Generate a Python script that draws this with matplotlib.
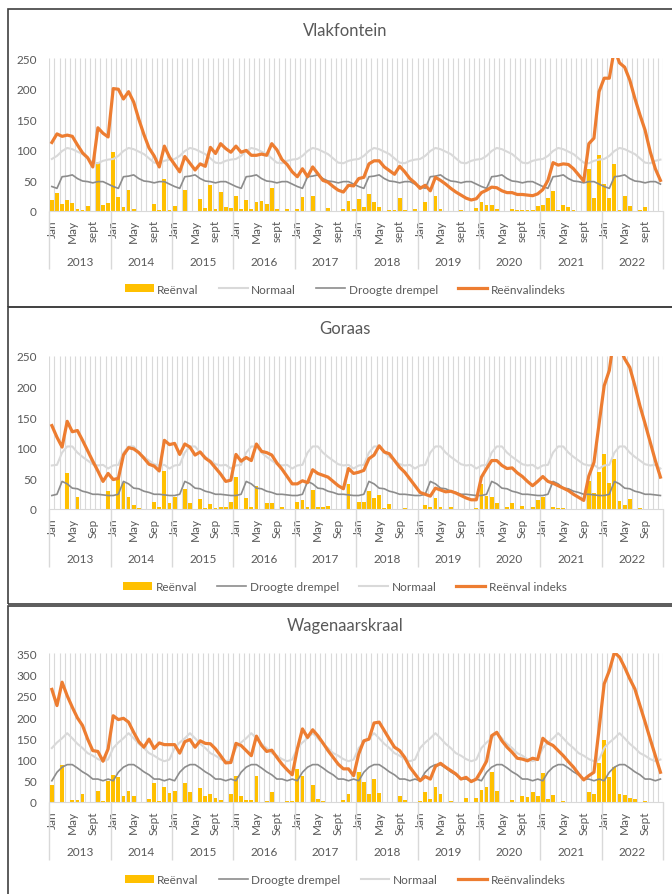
import numpy as np
import matplotlib
matplotlib.use("Agg")
import matplotlib.pyplot as plt
from matplotlib.patches import Patch, Rectangle
from matplotlib.lines import Line2D

plt.rcParams['font.family'] = ['Lato', 'DejaVu Sans']

jare = ['2013', '2014', '2015', '2016', '2017', '2018', '2019', '2020', '2021', '2022']

# Vlakfontein
vlak_reenval = [18, 29, 12, 18, 13, 3, 1, 8, 0, 80, 9, 13,
                97, 23, 6, 35, 3, 0, 0, 0, 11, 2, 52, 1,
                8, 0, 35, 0, 0, 19, 5, 43, 3, 31, 7, 5,
                24, 4, 18, 4, 14, 17, 11, 37, 3, 0, 4, 0,
                3, 23, 0, 25, 0, 0, 5, 0, 0, 3, 17, 4,
                19, 7, 28, 14, 7, 0, 2, 2, 22, 1, 0, 3,
                0, 14, 0, 25, 3, 0, 0, 0, 1, 0, 0, 5,
                14, 10, 9, 3, 0, 0, 3, 1, 2, 2, 2, 8,
                10, 22, 33, 1, 9, 7, 1, 0, 0, 68, 22, 91,
                44, 22, 76, 2, 24, 8, 0, 1, 7, 0, 0, 0]
vlak_indeks = [112, 126, 122, 124, 122, 108, 95, 87, 72, 136, 127, 121,
               200, 199, 183, 195, 178, 150, 125, 103, 90, 72, 106, 88,
               76, 64, 89, 78, 67, 77, 73, 104, 94, 110, 102, 96,
               106, 96, 99, 91, 91, 93, 91, 110, 100, 84, 76, 64,
               56, 69, 56, 72, 61, 50, 47, 40, 34, 31, 42, 41,
               53, 55, 77, 82, 82, 72, 66, 60, 73, 64, 53, 46,
               37, 42, 33, 55, 50, 44, 37, 31, 26, 21, 18, 20,
               30, 34, 39, 38, 33, 30, 30, 27, 27, 26, 25, 28,
               35, 50, 79, 75, 77, 76, 69, 59, 49, 110, 119, 195,
               217, 217, 265, 242, 235, 214, 184, 157, 132, 97, 69, 50]
vlak_normaal = [85, 90, 98, 103, 101, 97, 93, 86, 79, 78, 82, 84]
vlak_droogte = [40, 37, 56, 57, 59, 53, 49, 48, 46, 48, 48, 44]

# Goraas
gor_reenval = [0, 0, 0, 58, 0, 20, 0, 0, 0, 0, 0, 29,
               0, 50, 43, 19, 7, 2, 0, 0, 11, 3, 62, 9,
               20, 0, 33, 9, 0, 17, 1, 8, 2, 3, 3, 12,
               53, 0, 18, 4, 38, 0, 10, 10, 0, 3, 0, 0,
               11, 14, 3, 31, 4, 3, 5, 0, 0, 0, 40, 0,
               11, 12, 30, 18, 23, 2, 8, 0, 0, 2, 0, 0,
               0, 7, 3, 18, 4, 0, 4, 0, 0, 0, 0, 2,
               40, 22, 19, 9, 0, 3, 10, 0, 5, 0, 3, 15,
               20, 0, 4, 1, 1, 0, 0, 0, 0, 45, 26, 60,
               89, 42, 81, 13, 7, 17, 0, 2, 0, 0, 0, 0]
gor_indeks = [136, 117, 101, 143, 126, 128, 112, 95, 78, 62, 45, 58,
              48, 50, 88, 100, 98, 92, 83, 73, 70, 62, 112, 105,
              107, 89, 106, 101, 88, 93, 83, 77, 67, 57, 45, 47,
              89, 78, 84, 79, 106, 94, 92, 88, 75, 65, 53, 41,
              41, 46, 43, 64, 58, 55, 52, 45, 38, 33, 66, 58,
              60, 63, 82, 88, 103, 93, 90, 79, 68, 60, 49, 38,
              27, 24, 21, 34, 31, 28, 29, 26, 22, 18, 15, 15,
              52, 66, 79, 79, 71, 66, 67, 59, 53, 45, 38, 45,
              53, 45, 42, 38, 34, 30, 24, 19, 14, 54, 76, 139,
              201, 226, 285, 265, 245, 231, 201, 168, 139, 109, 79, 52]
gor_normaal = [71, 72, 92, 102, 102, 92, 85, 79, 73, 71, 72, 66]
gor_droogte = [22, 24, 45, 41, 34, 33, 29, 27, 24, 24, 23, 22]

# Wagenaarskraal
wag_reenval = [40, 0, 88, 0, 5, 5, 20, 0, 0, 27, 3, 49,
               64, 60, 14, 25, 15, 0, 0, 7, 45, 2, 36, 21,
               27, 0, 44, 24, 0, 33, 13, 20, 10, 4, 0, 18,
               62, 15, 5, 5, 62, 0, 3, 23, 0, 0, 2, 3,
               77, 61, 0, 40, 8, 3, 0, 0, 0, 5, 19, 0,
               70, 46, 19, 54, 22, 0, 0, 0, 13, 5, 0, 0,
               3, 24, 7, 36, 20, 0, 2, 0, 0, 10, 0, 10,
               28, 35, 70, 26, 0, 0, 4, 0, 14, 11, 23, 13,
               68, 7, 16, 0, 2, 1, 0, 0, 0, 23, 19, 92,
               147, 60, 82, 18, 16, 10, 7, 0, 2, 0, 0, 0]
wag_indeks = [265, 227, 282, 250, 223, 198, 180, 148, 121, 119, 96, 125,
              203, 194, 197, 188, 164, 142, 129, 148, 126, 139, 135, 135,
              135, 115, 142, 147, 129, 144, 138, 137, 125, 109, 92, 93,
              138, 133, 121, 109, 155, 133, 119, 122, 105, 89, 76, 64,
              125, 172, 152, 170, 156, 139, 121, 105, 89, 78, 78, 62,
              113, 144, 148, 186, 188, 168, 148, 129, 121, 105, 82, 66,
              50, 60, 54, 84, 91, 82, 74, 66, 54, 58, 48, 54,
              74, 96, 156, 164, 144, 129, 117, 103, 101, 97, 103, 100,
              150, 139, 133, 121, 109, 95, 82, 66, 52, 62, 70, 172,
              278, 309, 352, 341, 317, 290, 266, 227, 188, 148, 109, 70]
wag_normaal = [127, 140, 150, 162, 150, 137, 127, 115, 109, 101, 96, 100]
wag_droogte = [50, 70, 82, 88, 88, 80, 71, 64, 54, 54, 50, 54]

W, H = 672, 895
GEEL = '#FFC000'
ORANJE = '#ED7D31'
LIG = '#D9D9D9'
DONKER = '#8C8C8C'
TEKS = '#595959'
FS = 8.5

fig = plt.figure(figsize=(W / 100, H / 100), dpi=100)

# panel rame
for y0, y1 in [(10, 308), (308, 605), (607, 900)]:
    fig.patches.append(Rectangle((8 / W, 1 - y1 / H), 700 / W, (y1 - y0) / H,
                                 transform=fig.transFigure, fill=False,
                                 edgecolor='#404040', lw=1.2))


def teken(top, bot, titel, ymax, reenval, indeks, normaal, droogte, sep, volgorde, indeks_naam):
    left, right = 49.3, 663
    ax = fig.add_axes([left / W, 1 - bot / H, (right - left) / W, (bot - top) / H])
    n = len(reenval)
    x = np.arange(n)
    ah = bot - top

    ax.vlines(np.arange(-0.5, n), 0, 1, transform=ax.get_xaxis_transform(),
              color=LIG, lw=0.8, zorder=0)
    ax.bar(x, reenval, width=0.75, color=GEEL, zorder=2)
    ax.plot(x, np.tile(normaal, n // 12), color=LIG, lw=1.5, zorder=3)
    ax.plot(x, np.tile(droogte, n // 12), color=DONKER, lw=1.2, zorder=3)
    ax.plot(x, indeks, color=ORANJE, lw=2.3, zorder=4, solid_joinstyle='round')

    ax.set_xlim(-0.5, n - 0.5)
    ax.set_ylim(0, ymax)
    ax.set_yticks(np.arange(0, ymax + 1, 50))
    for s in ['top', 'right', 'left']:
        ax.spines[s].set_visible(False)
    ax.spines['bottom'].set_color(LIG)
    ax.tick_params(axis='both', length=0, labelsize=FS, labelcolor=TEKS)
    ax.tick_params(axis='y', pad=9)
    ax.tick_params(axis='x', pad=6)

    pos = [12 * j + m for j in range(n // 12) for m in (0, 4, 8)]
    lbl = [['Jan', 'May', sep][k % 3] for k in range(len(pos))]
    ax.set_xticks(pos)
    ax.set_xticklabels(lbl, rotation=90)

    # jaar etikette en skeidings
    ax.vlines(np.arange(-0.5, n, 12), -58 / ah, 0, transform=ax.get_xaxis_transform(),
              color=LIG, lw=1, clip_on=False)
    for j, jaar in enumerate(jare):
        ax.text(12 * j + 5.5, -50 / ah, jaar, transform=ax.get_xaxis_transform(),
                ha='center', va='center', fontsize=FS, color=TEKS)

    fig.text(345 / W, 1 - (top - 28) / H, titel, ha='center', va='center',
             fontsize=12, color=TEKS)

    handles = {
        'Reënval': Patch(facecolor=GEEL, edgecolor='none'),
        'Normaal': Line2D([], [], color=LIG, lw=1.5),
        'Droogte drempel': Line2D([], [], color=DONKER, lw=1.2),
        indeks_naam: Line2D([], [], color=ORANJE, lw=2.3),
    }
    names = [indeks_naam if v == 'indeks' else v for v in volgorde]
    fig.legend([handles[v] for v in names], names, loc='center',
               bbox_to_anchor=(345 / W, 1 - (bot + 78) / H), ncol=4, frameon=False,
               fontsize=FS, labelcolor=TEKS, handlelength=2.45, handleheight=0.68,
               handletextpad=0.3, columnspacing=1.7)


teken(59, 212, 'Vlakfontein', 250, vlak_reenval, vlak_indeks, vlak_normaal, vlak_droogte,
      'sept', ['Reënval', 'Normaal', 'Droogte drempel', 'indeks'], 'Reënvalindeks')
teken(356.7, 510, 'Goraas', 250, gor_reenval, gor_indeks, gor_normaal, gor_droogte,
      'Sep', ['Reënval', 'Droogte drempel', 'Normaal', 'indeks'], 'Reënval indeks')
teken(654.3, 803, 'Wagenaarskraal', 350, wag_reenval, wag_indeks, wag_normaal, wag_droogte,
      'Sept', ['Reënval', 'Droogte drempel', 'Normaal', 'indeks'], 'Reënvalindeks')

fig.savefig('out.png', dpi=100)
